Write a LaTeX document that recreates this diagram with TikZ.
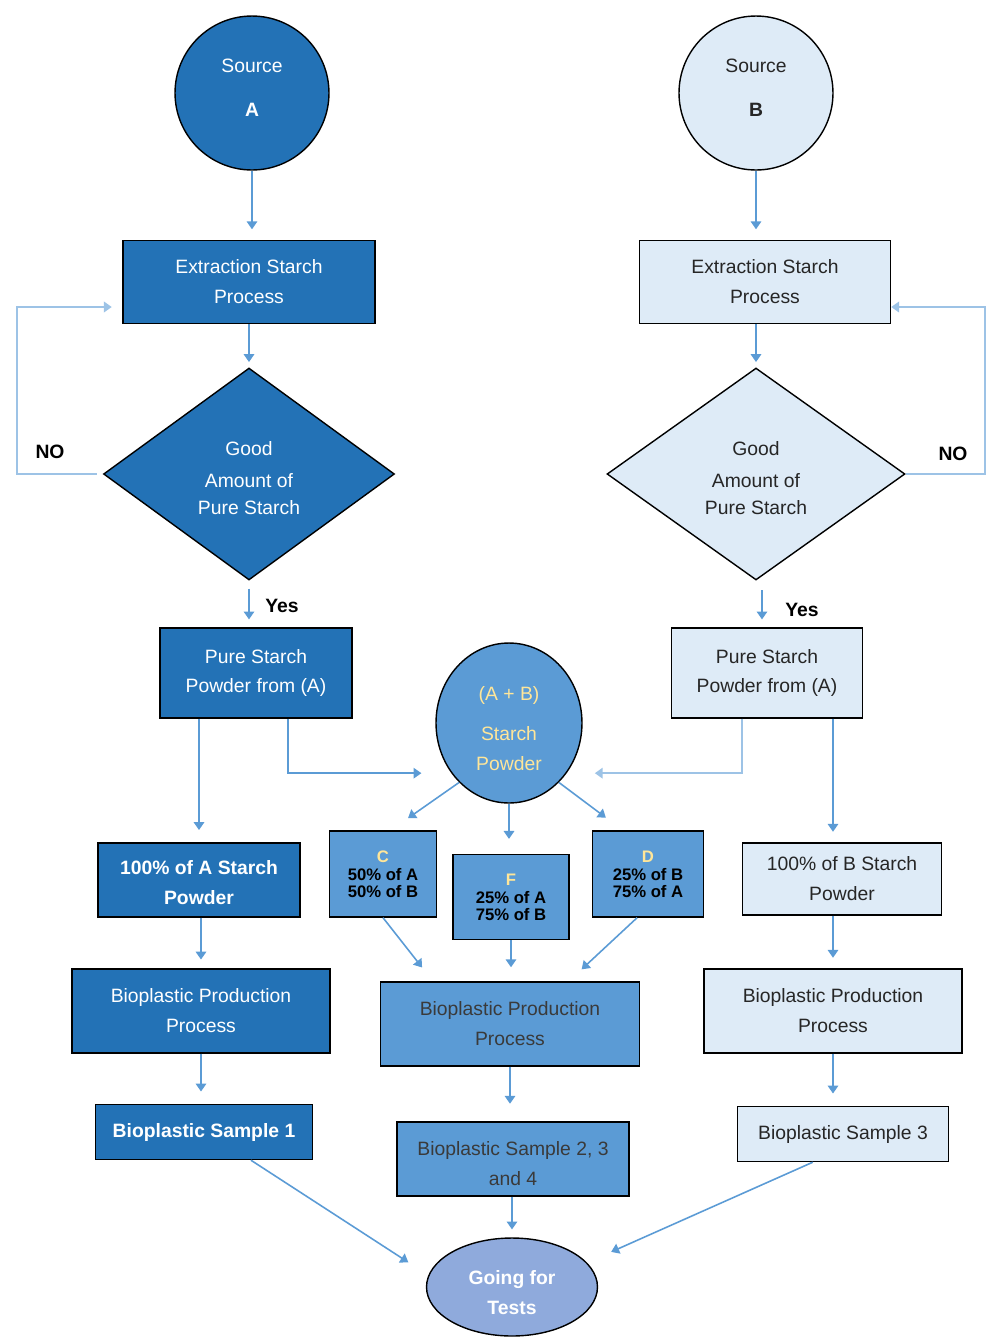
\documentclass[tikz,border=0pt]{standalone}
\usepackage{fontspec}
\setmainfont{Liberation Sans}
\usetikzlibrary{shapes.geometric,arrows.meta}
\definecolor{srcA}{HTML}{2372B6}
\definecolor{srcB}{HTML}{DEEBF7}
\definecolor{mixc}{HTML}{5B9BD5}
\definecolor{testc}{HTML}{8FAADC}
\definecolor{arrc}{HTML}{5B9BD5}
\definecolor{loopc}{HTML}{9DC3E6}
\definecolor{mixtxt}{HTML}{FFE699}
\definecolor{dktxt}{HTML}{262626}
\definecolor{midtxt}{HTML}{3A3A3A}
\tikzset{
  base/.style={draw=black, line width=0.8pt, align=center, inner sep=0pt, font=\fontsize{11}{17}\selectfont},
  boxA/.style={base, rectangle, fill=srcA, text=white},
  boxB/.style={base, rectangle, fill=srcB, text=dktxt},
  boxM/.style={base, rectangle, fill=mixc, text=midtxt},
  mixbox/.style={base, rectangle, fill=mixc, text=black, font=\fontsize{9.5}{9.5}\selectfont\bfseries},
  decA/.style={base, diamond, fill=srcA, text=white},
  decB/.style={base, diamond, fill=srcB, text=dktxt},
  lbl/.style={font=\fontsize{11}{13}\selectfont\bfseries, text=black},
  arr/.style={draw=arrc, line width=0.9pt, -{Triangle[length=4.5pt,width=6pt]}, shorten >=6pt},
  noloop/.style={arr, draw=loopc, line width=1.2pt},
}
\begin{document}
\begin{tikzpicture}[x=0.02cm, y=-0.02cm]
  \useasboundingbox (0,0) rectangle (1000,1340);

  \node[base, circle, fill=srcA, text=white, minimum size=3.08cm, text depth=0.2cm] (sA) at (252,93) {Source\\[8pt]\textbf{A}};
  \node[base, circle, fill=srcB, text=dktxt, minimum size=3.08cm, text depth=0.2cm] (sB) at (756,93) {Source\\[8pt]\textbf{B}};

  \node[boxA, minimum width=5.04cm, minimum height=1.66cm] (eA) at (249,282) {Extraction Starch\\Process};
  \node[boxB, minimum width=5.02cm, minimum height=1.66cm] (eB) at (765,282) {Extraction Starch\\Process};

  \node[decA, minimum width=5.82cm, minimum height=4.24cm] (dA) at (249,474) {\rule{0pt}{12.6pt}Good\\[1.5pt]Amount of\\[-1.5pt]Pure Starch};
  \node[decB, minimum width=5.96cm, minimum height=4.24cm] (dB) at (756,474) {\rule{0pt}{12.6pt}Good\\[1.5pt]Amount of\\[-1.5pt]Pure Starch};

  \node[lbl] (noA) at (50,452) {NO};
  \node[lbl] (noB) at (953,454) {NO};
  \node[lbl] (yesA) at (282,606) {Yes};
  \node[lbl] (yesB) at (802,610) {Yes};

  \node[boxA, minimum width=3.84cm, minimum height=1.8cm] (pA) at (256,673) {Pure Starch\\Powder from (A)};
  \node[boxB, minimum width=3.82cm, minimum height=1.8cm] (pB) at (767,673) {Pure Starch\\Powder from (A)};
  \node[base, ellipse, fill=mixc, text=mixtxt, minimum width=2.92cm, minimum height=3.2cm] (ab) at (509,723) {\rule{0pt}{14pt}(A + B)\\[6pt]Starch\\Powder};

  \node[boxA, font=\fontsize{11}{17}\selectfont\bfseries, minimum width=4.04cm, minimum height=1.48cm] (hA) at (199,880) {\rule{0pt}{11pt}100\% of A Starch\\Powder};
  \node[boxB, minimum width=3.98cm, minimum height=1.44cm] (hB) at (842,879) {100\% of B Starch\\Powder};
  \node[mixbox, minimum width=2.14cm, minimum height=1.72cm] (mC) at (383,874) {\textcolor{mixtxt}{C}\\[1pt]50\% of A\\50\% of B};
  \node[mixbox, minimum width=2.32cm, minimum height=1.7cm] (mF) at (511,897) {\textcolor{mixtxt}{F}\\[1pt]25\% of A\\75\% of B};
  \node[mixbox, minimum width=2.22cm, minimum height=1.72cm] (mD) at (648,874) {\textcolor{mixtxt}{D}\\[1pt]25\% of B\\75\% of A};

  \node[boxA, minimum width=5.16cm, minimum height=1.68cm] (bA) at (201,1011) {Bioplastic Production\\Process};
  \node[boxM, minimum width=5.18cm, minimum height=1.68cm] (bM) at (510,1024) {Bioplastic Production\\Process};
  \node[boxB, minimum width=5.16cm, minimum height=1.68cm] (bB) at (833,1011) {Bioplastic Production\\Process};

  \node[boxA, font=\fontsize{11}{17}\selectfont\bfseries, minimum width=4.34cm, minimum height=1.1cm] (s1) at (204,1132) {Bioplastic Sample 1};
  \node[boxM, minimum width=4.64cm, minimum height=1.48cm] (s2) at (513,1159) {\rule{0pt}{13.6pt}Bioplastic Sample 2, 3\\and 4};
  \node[boxB, minimum width=4.22cm, minimum height=1.1cm] (s3) at (843,1134) {Bioplastic Sample 3};

  \node[base, ellipse, fill=testc, text=white, font=\fontsize{11}{17}\selectfont\bfseries, minimum width=3.42cm, minimum height=1.96cm] (T) at (512,1287) {\rule{0pt}{14.8pt}Going for\\Tests};

  \draw[arr] (sA.south) -- (sA.south |- eA.north);
  \draw[arr] (sB.south) -- (sB.south |- eB.north);
  \draw[arr, shorten >=3pt] (eA.south) -- (dA.north);
  \draw[arr, shorten >=3pt] (dB.north |- eB.south) -- (dB.north);
  \draw[noloop, shorten <=3.4pt] (dA.west) -- ++(-86,0) |- ([yshift=-0.5cm]eA.west);
  \draw[noloop, shorten >=0pt] (dB.east) -- ++(79,0) |- ([yshift=-0.5cm]eB.east);
  \draw[arr, shorten <=4.5pt, shorten >=4.5pt] (dA.south) -- (dA.south |- pA.north);
  \draw[arr, shorten <=5.5pt, shorten >=4.5pt] ([xshift=0.12cm]dB.south) -- ([xshift=0.12cm]dB.south |- pB.north);

  \draw[arr, shorten >=17pt] ([xshift=0.64cm]pA.south) |- (ab.221);
  \draw[noloop, shorten >=16pt] ([xshift=-0.5cm]pB.south) |- (ab.319);
  \draw[arr, shorten >=7pt] (hA.north |- pA.south) -- (hA.north);
  \draw[arr, shorten >=6pt] (bB.north |- pB.south) -- (bB.north |- hB.north);

  \draw[arr, shorten >=12pt] (ab.230) -- (mC.80);
  \draw[arr, shorten >=8.5pt] (ab.south) -- (ab.south |- mF.north);
  \draw[arr, shorten >=12pt] (ab.310) -- (mD.120);

  \draw[arr, shorten >=5pt] (bA.north |- hA.south) -- (bA.north);
  \draw[arr, shorten >=10pt] (mC.south) -- (bM.151);
  \draw[arr, shorten >=8pt] (mF.south) -- (mF.south |- bM.north);
  \draw[arr, shorten >=10pt] (mD.256) -- (bM.36);
  \draw[arr] (bB.north |- hB.south) -- (bB.north);

  \draw[arr, shorten >=7pt] (bA.south) -- (bA.south |- s1.north);
  \draw[arr, shorten >=10pt] (bM.south) -- (bM.south |- s2.north);
  \draw[arr, shorten >=7pt] (bB.south) -- (bB.south |- s3.north);

  \draw[arr, shorten >=4.5pt] (T.north |- s2.south) -- (T.north);
  \draw[arr, shorten >=13.5pt] (s1.-31) -- (T.172);
  \draw[arr, shorten >=15pt] (s3.223) -- (T.18);
\end{tikzpicture}
\end{document}
